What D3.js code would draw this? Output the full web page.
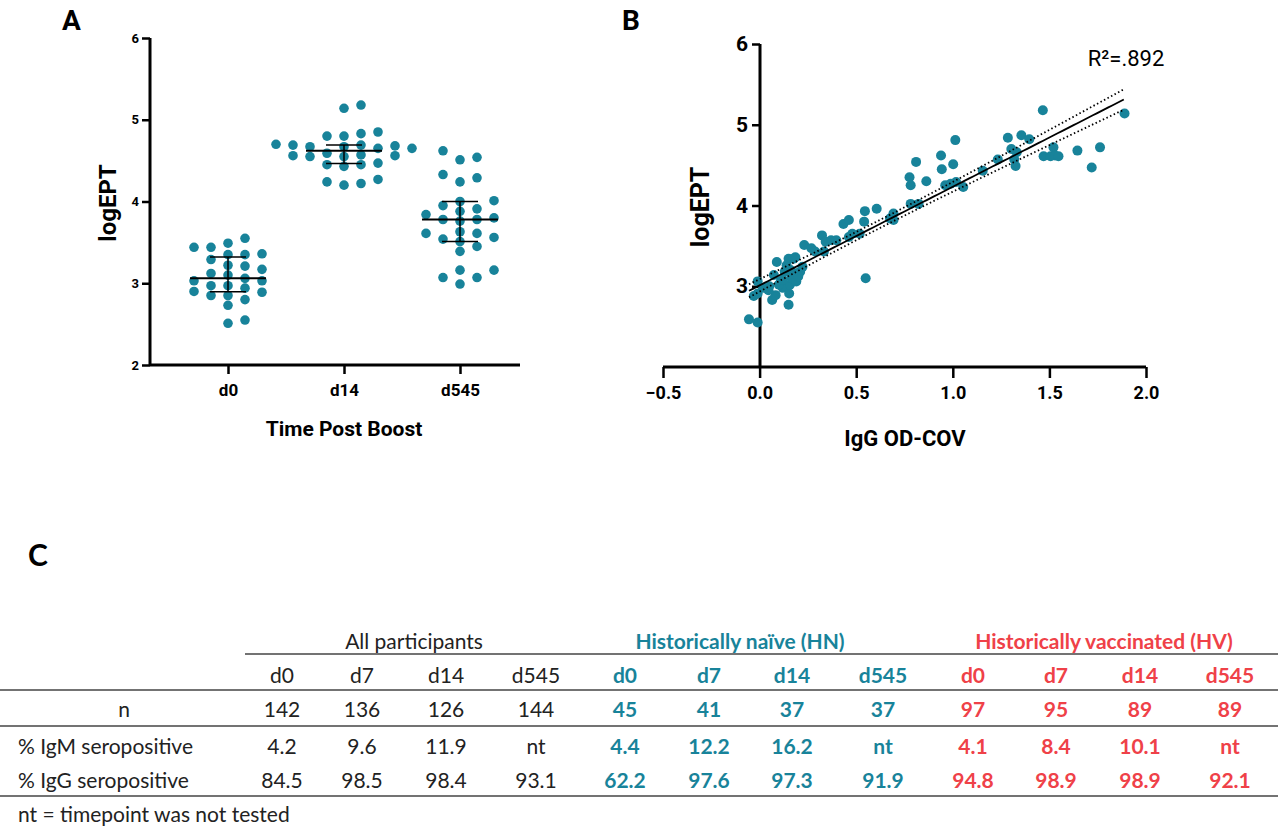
<!DOCTYPE html>
<html><head><meta charset="utf-8">
<script src="https://cdn.jsdelivr.net/npm/d3@7"></script>
<style>
body{margin:0;background:#fff;}
text{font-family:Roboto,"Liberation Sans",Arial,sans-serif;}
.tbl text{font-family:Lato,"Open Sans",sans-serif;}
</style></head>
<body><svg id="fig" width="1280" height="829"></svg>
<script>
var teal = "#18839a", red = "#ef4148";

// Panel A: logEPT by timepoint
var groups = ["d0", "d14", "d545"];
var d0Vals = [3.44,3.49,3.35,3.44,3.55,3.36,3.35,3.03,3.17,3.22,3.29,3.21,3.06,3.10,3.12,3.03,
  2.90,2.94,2.97,2.97,2.89,2.80,2.85,2.85,2.73,2.51,2.55];
var d14Vals = [5.18,5.14,4.80,4.80,4.85,4.83,4.67,4.69,4.65,4.65,4.69,4.68,4.70,4.67,4.56,4.56,
  4.55,4.55,4.57,4.59,4.45,4.43,4.45,4.47,4.27,4.20,4.22,4.24];
var d545Vals = [4.62,4.51,4.54,4.33,4.24,4.29,4.00,4.01,3.84,3.80,3.88,3.91,3.95,3.76,3.78,3.78,
  3.61,3.63,3.61,3.54,3.56,3.51,3.45,3.39,3.16,3.16,3.07,3.07,2.99];
var groupVals = [d0Vals, d14Vals, d545Vals];
var yTicksA = [2, 3, 4, 5, 6];

// Panel B: IgG OD-COV vs logEPT
var odCov = [-0.055,-0.01,-0.03,-0.01,-0.01,0.065,0.083,0.074,0.089,0.11,0.12,0.13,0.14,0.15,0.15,0.153,
  0.157,0.166,0.185,0.19,0.194,0.21,0.222,0.231,0.268,0.287,0.323,0.333,0.342,0.37,0.397,0.434,0.462,
  0.462,0.48,0.518,0.541,0.545,0.549,0.606,0.675,0.693,0.693,0.776,0.782,0.782,0.81,0.823,0.863,0.939,
  0.943,0.961,0.989,1.002,1.013,1.017,1.054,1.155,1.233,1.285,1.303,1.318,1.325,1.331,1.355,1.396,
  1.466,1.47,1.506,1.521,1.529,1.547,1.645,1.719,1.762,1.889,0.018,0.046,0.10,0.176,0.12,0.05,0.16,0.2];
var logEpt = [2.59,2.55,2.88,2.91,3.06,2.83,2.89,3.14,3.30,3.06,2.98,3.18,3.26,3.34,2.77,2.91,
  3.02,3.10,3.36,3.06,3.16,3.18,3.24,3.51,3.47,3.43,3.63,3.43,3.55,3.57,3.57,3.77,3.82,
  3.61,3.65,3.65,3.80,3.93,3.10,3.96,3.84,3.90,3.82,4.35,4.25,4.02,4.54,4.02,4.30,4.62,
  4.45,4.25,4.27,4.51,4.81,4.29,4.23,4.43,4.57,4.84,4.70,4.57,4.49,4.66,4.87,4.82,
  5.18,4.61,4.61,4.72,4.62,4.61,4.68,4.47,4.72,5.14,2.98,2.95,3.02,3.34,3.08,3.0,3.2,3.12];
var xTicksB = [-0.5, 0, 0.5, 1.0, 1.5, 2.0];
var yTicksB = [3, 4, 5, 6];

// Panel C table
var timepoints = ["d0", "d7", "d14", "d545"];
var cohorts = ["All participants", "Historically naïve (HN)", "Historically vaccinated (HV)"];
var rowLabels = ["n", "% IgM seropositive", "% IgG seropositive"];
var allRows = [["142","136","126","144"], ["4.2","9.6","11.9","nt"], ["84.5","98.5","98.4","93.1"]];
var hnRows = [["45","41","37","37"], ["4.4","12.2","16.2","nt"], ["62.2","97.6","97.3","91.9"]];
var hvRows = [["97","95","89","89"], ["4.1","8.4","10.1","nt"], ["94.8","98.9","98.9","92.1"]];

var svg = d3.select("#fig");

// ---------- Panel A ----------
var gA = svg.append("g");
var xA = d3.scalePoint().domain(groups).range([228, 460]);
var yA = d3.scaleLinear().domain([2, 6]).range([365, 38]);
gA.append("g").attr("transform", "translate(150,0)")
  .call(d3.axisLeft(yA).tickValues(yTicksA).tickSize(8).tickFormat(d3.format("d")))
  .call(g => g.select(".domain").attr("stroke-width", 3).attr("d", "M0,38V365"))
  .call(g => g.selectAll(".tick line").attr("stroke-width", 2.5))
  .call(g => g.selectAll(".tick text").attr("font-size", 13).attr("font-weight", "bold"));
gA.append("g").attr("transform", "translate(0,365)")
  .call(d3.axisBottom(xA).tickSize(9).tickPadding(10))
  .call(g => g.select(".domain").attr("stroke-width", 3).attr("d", "M150,0H520"))
  .call(g => g.selectAll(".tick line").attr("stroke-width", 2.5))
  .call(g => g.selectAll(".tick text").attr("font-size", 17).attr("font-weight", "bold"));

groups.forEach(function (grp, gi) {
  var vals = groupVals[gi].slice().sort(d3.ascending);
  var placed = [];
  vals.forEach(function (v) {
    var py = yA(v);
    for (var k = 0; k < 12; k++) {
      var off = (k % 2 ? 1 : -1) * Math.ceil(k / 2) * 17;
      if (k === 0) off = 0;
      var clash = placed.some(p => p.off === off && Math.abs(p.y - py) < 9.5);
      if (!clash) { placed.push({off: off, y: py}); break; }
    }
  });
  gA.selectAll(null).data(placed).enter().append("circle")
    .attr("cx", d => xA(grp) + d.off).attr("cy", d => d.y).attr("r", 4.8).attr("fill", teal);
  var med = d3.median(vals), q1 = d3.quantile(vals, 0.25), q3 = d3.quantile(vals, 0.75);
  var cx = xA(grp);
  var err = gA.append("g").attr("stroke", "#000").attr("stroke-width", 1.5);
  err.append("line").attr("x1", cx - 38).attr("x2", cx + 38).attr("y1", yA(med)).attr("y2", yA(med)).attr("stroke-width", 2);
  err.append("line").attr("x1", cx).attr("x2", cx).attr("y1", yA(q1)).attr("y2", yA(q3));
  [q1, q3].forEach(q => err.append("line").attr("x1", cx - 18).attr("x2", cx + 18).attr("y1", yA(q)).attr("y2", yA(q)));
});
gA.append("text").attr("x", 62).attr("y", 30).attr("font-size", 28).attr("font-weight", "bold").text("A");
gA.append("text").attr("transform", "translate(116,203) rotate(-90)").attr("text-anchor", "middle")
  .attr("font-size", 24).attr("font-weight", "bold").text("logEPT");
gA.append("text").attr("x", 344).attr("y", 436).attr("text-anchor", "middle")
  .attr("font-size", 21).attr("font-weight", "bold").text("Time Post Boost");

// ---------- Panel B ----------
var gB = svg.append("g");
var xB = d3.scaleLinear().domain([-0.5, 2.0]).range([663, 1146]);
var yB = d3.scaleLinear().domain([2, 6]).range([367, 44]);
gB.append("g").attr("transform", "translate(760,0)")
  .call(d3.axisLeft(yB).tickValues(yTicksB).tickSize(8).tickPadding(4).tickFormat(d3.format("d")))
  .call(g => g.select(".domain").attr("stroke-width", 3).attr("d", "M0,44V367"))
  .call(g => g.selectAll(".tick line").attr("stroke-width", 2.5))
  .call(g => g.selectAll(".tick text").attr("font-size", 21).attr("font-weight", "bold"));
gB.append("g").attr("transform", "translate(0,367)")
  .call(d3.axisBottom(xB).tickValues(xTicksB).tickSize(11).tickPadding(8).tickFormat(d3.format(".1f")))
  .call(g => g.select(".domain").attr("stroke-width", 3).attr("d", "M663,0H1146"))
  .call(g => g.selectAll(".tick line").attr("stroke-width", 2.5))
  .call(g => g.selectAll(".tick text").attr("font-size", 18).attr("font-weight", "bold"));

var pts = odCov.map((x, i) => ({x: x, y: logEpt[i]}));
gB.selectAll(null).data(pts).enter().append("circle")
  .attr("cx", d => xB(d.x)).attr("cy", d => yB(d.y)).attr("r", 5).attr("fill", teal);

// least squares fit and 95% confidence band
var n = pts.length, mx = d3.mean(odCov), my = d3.mean(logEpt);
var sxx = d3.sum(odCov, x => (x - mx) * (x - mx));
var slope = d3.sum(pts, p => (p.x - mx) * (p.y - my)) / sxx, icpt = my - slope * mx;
var se = Math.sqrt(d3.sum(pts, p => Math.pow(p.y - (icpt + slope * p.x), 2)) / (n - 2));
var xs = d3.range(d3.min(odCov), d3.max(odCov) + 0.001, 0.02);
var band = xs.map(x => ({x: x, f: icpt + slope * x, h: 1.99 * se * Math.sqrt(1 / n + (x - mx) * (x - mx) / sxx)}));
var ln = k => d3.line().x(d => xB(d.x)).y(d => yB(d.f + k * d.h));
gB.append("path").datum(band).attr("d", ln(0)).attr("fill", "none").attr("stroke", "#000").attr("stroke-width", 1.8);
[-1, 1].forEach(k => gB.append("path").datum(band).attr("d", ln(k)).attr("fill", "none")
  .attr("stroke", "#000").attr("stroke-width", 1.8).attr("stroke-dasharray", "1.5,2.5"));

gB.append("text").attr("x", 622).attr("y", 30).attr("font-size", 28).attr("font-weight", "bold").text("B");
gB.append("text").attr("transform", "translate(709,207) rotate(-90)").attr("text-anchor", "middle")
  .attr("font-size", 25).attr("font-weight", "bold").text("logEPT");
gB.append("text").attr("x", 905).attr("y", 446).attr("text-anchor", "middle")
  .attr("font-size", 22).attr("font-weight", "bold").text("IgG OD-COV");
gB.append("text").attr("x", 1126).attr("y", 66).attr("text-anchor", "middle")
  .attr("font-size", 22).text("R²=.892");

// ---------- Panel C ----------
var gC = svg.append("g").attr("class", "tbl");
gC.append("text").attr("x", 28).attr("y", 566).attr("font-size", 30).attr("font-weight", "bold").text("C");
var colX = [[282, 362, 446, 536], [625, 709, 792, 883], [973, 1056, 1140, 1230]];
var headX = [414, 740, 1104];
var colors = ["#222", teal, red];
var tableRows = [allRows, hnRows, hvRows];
var rowY = [717, 754, 788];
cohorts.forEach(function (c, ci) {
  var bold = ci > 0 ? "bold" : "normal";
  gC.append("text").attr("x", headX[ci]).attr("y", 649).attr("text-anchor", "middle")
    .attr("font-size", 21).attr("font-weight", bold).attr("fill", colors[ci]).text(c);
  gC.selectAll(null).data(timepoints).enter().append("text")
    .attr("x", (d, i) => colX[ci][i]).attr("y", 683).attr("text-anchor", "middle")
    .attr("font-size", 21).attr("font-weight", bold).attr("fill", colors[ci]).text(d => d);
  tableRows[ci].forEach(function (row, ri) {
    gC.selectAll(null).data(row).enter().append("text")
      .attr("x", (d, i) => colX[ci][i]).attr("y", rowY[ri]).attr("text-anchor", "middle")
      .attr("font-size", 21).attr("font-weight", bold).attr("fill", colors[ci]).text(d => d);
  });
});
rowLabels.forEach(function (r, ri) {
  gC.append("text").attr("x", ri === 0 ? 124 : 18).attr("y", rowY[ri])
    .attr("text-anchor", ri === 0 ? "middle" : "start").attr("font-size", 21).attr("fill", "#222").text(r);
});
gC.append("text").attr("x", 18).attr("y", 822).attr("font-size", 21).attr("fill", "#222").text("nt = timepoint was not tested");
[[245, 654], [0, 690], [0, 726], [0, 796]].forEach(function (l) {
  gC.append("line").attr("x1", l[0]).attr("x2", 1278).attr("y1", l[1]).attr("y2", l[1])
    .attr("stroke", "#444").attr("stroke-width", 1.5);
});
</script></body></html>
